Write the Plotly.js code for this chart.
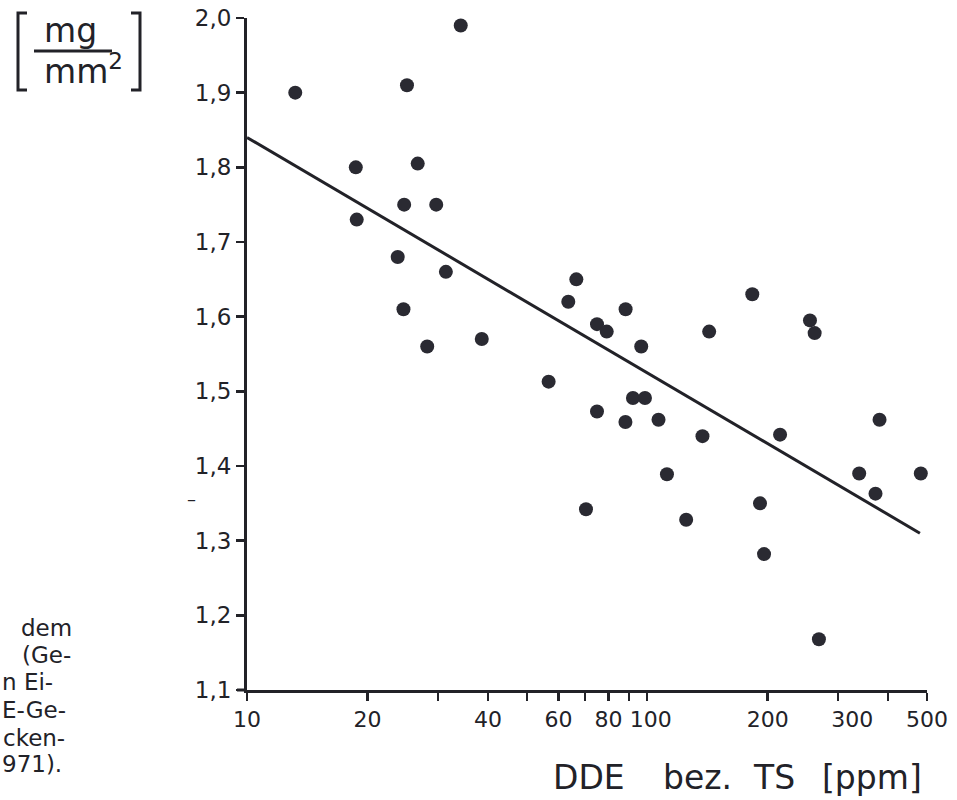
<!DOCTYPE html>
<html>
<head>
<meta charset="utf-8">
<script src="https://cdn.plot.ly/plotly-3.0.1.min.js"></script>
<style>html,body{margin:0;padding:0;background:#fff;}#chart{width:957px;height:800px;}</style>
</head>
<body>
<div id="chart"></div>
<script>
// DDE content (ppm, log scale) vs. shell thickness index (mg/mm^2)
const ddeValues = [13.2, 34.2, 25.1, 18.7, 26.7, 18.8, 24.7, 29.7, 23.8, 31.4, 24.6, 28.2, 38.6,
  66.5, 63.5, 88.3, 74.9, 79.2, 96.6, 142.8, 183, 255, 262, 56.7, 92.1, 98.7, 74.9, 88.2,
  106.7, 137.4, 214.7, 380.5, 112, 338.5, 482.5, 371.8, 70.3, 191.3, 125.1, 195.8, 268.5];
const shellValues = [1.90, 1.99, 1.91, 1.80, 1.805, 1.73, 1.75, 1.75, 1.68, 1.66, 1.61, 1.56, 1.57,
  1.65, 1.62, 1.61, 1.59, 1.58, 1.56, 1.58, 1.63, 1.595, 1.578, 1.513, 1.491, 1.491, 1.473, 1.459,
  1.462, 1.44, 1.442, 1.462, 1.389, 1.39, 1.39, 1.363, 1.342, 1.35, 1.328, 1.282, 1.168];
const regressionX = [10, 480];
const regressionY = [1.84, 1.31];
const xTickVals = [10, 20, 30, 40, 50, 60, 70, 80, 90, 100, 200, 300, 400, 500];
const xTickText = ['10', '20', '', '40', '', '60', '', '80', '', '100', '200', '300', '', '500'];
const yTickVals = [1.1, 1.2, 1.3, 1.4, 1.5, 1.6, 1.7, 1.8, 1.9, 2.0];
const yTickText = ['1,1', '1,2', '1,3', '1,4', '1,5', '1,6', '1,7', '1,8', '1,9', '2,0'];
const xTitleWords = ['DDE', 'bez.', 'TS', '[ppm]'];
const captionLines = ['dem', '(Ge-', 'n Ei-', 'E-Ge-', 'cken-', '971).'];

const W = 957, H = 800, ML = 247, MR = 30, MT = 18, MB = 110;
const PW = W - ML - MR, PH = H - MT - MB;
const px = x => (x - ML) / PW;
const py = y => (H - MB - y) / PH;
const INK = '#222228';
const FONT = 'DejaVu Sans, sans-serif';

// labels in the original sit slightly right of some ticks: pad with leading no-break spaces
const NB = '\u00a0';
const xLabelPad = {100: 1, 300: 4};
const xTickLabels = xTickText.map((t, i) => t ? NB.repeat(xLabelPad[xTickVals[i]] || 0) + t : t);

const traces = [
  {
    x: regressionX, y: regressionY, type: 'scatter', mode: 'lines',
    line: {color: INK, width: 3}, hoverinfo: 'skip', cliponaxis: false
  },
  {
    x: ddeValues, y: shellValues, type: 'scatter', mode: 'markers',
    marker: {color: '#2a2a32', size: 14, line: {width: 0}}, cliponaxis: false
  }
];

const annotations = [];
// y-axis unit label
annotations.push({xref: 'paper', yref: 'paper', x: px(70), y: py(30), xanchor: 'center', yanchor: 'middle',
  text: 'mg', showarrow: false, font: {family: FONT, size: 33, color: INK}});
annotations.push({xref: 'paper', yref: 'paper', x: px(42), y: py(70), xanchor: 'left', yanchor: 'middle',
  text: 'mm<sup>2</sup>', showarrow: false, font: {family: FONT, size: 33, color: INK}});
// x-axis title words
const xTitlePos = [551, 661, 751, 820];
xTitleWords.forEach((w, i) => annotations.push({xref: 'paper', yref: 'paper', x: px(xTitlePos[i]), y: py(777),
  xanchor: 'left', yanchor: 'middle', text: w, showarrow: false, font: {family: FONT, size: 33, color: INK}}));
// cropped caption on the left
const capX = [19, 20, 0, 0, 1, 0];
const capY = [628, 655, 682, 710, 738, 764];
captionLines.forEach((t, i) => annotations.push({xref: 'paper', yref: 'paper', x: px(capX[i]), y: py(capY[i]),
  xanchor: 'left', yanchor: 'middle', text: t, showarrow: false, font: {family: FONT, size: 23, color: INK}}));
// stray dash mark
annotations.push({xref: 'paper', yref: 'paper', x: px(191), y: py(498), xanchor: 'center', yanchor: 'middle',
  text: '–', showarrow: false, font: {family: FONT, size: 18, color: INK}});

const shapes = [
  {type: 'path', xref: 'paper', yref: 'paper',
   path: `M ${px(27)} ${py(13)} L ${px(18)} ${py(13)} L ${px(18)} ${py(90)} L ${px(27)} ${py(90)}`,
   line: {color: INK, width: 3}},
  {type: 'path', xref: 'paper', yref: 'paper',
   path: `M ${px(131)} ${py(13)} L ${px(140)} ${py(13)} L ${px(140)} ${py(90)} L ${px(131)} ${py(90)}`,
   line: {color: INK, width: 3}},
  {type: 'line', xref: 'paper', yref: 'paper', x0: px(34), x1: px(112), y0: py(51), y1: py(51),
   line: {color: INK, width: 3}},
  // x-axis line stub extending left of the y axis
  {type: 'line', xref: 'paper', yref: 'paper', x0: px(237), x1: px(247), y0: py(690), y1: py(690),
   line: {color: INK, width: 3}}
];

const layout = {
  width: W, height: H,
  margin: {l: ML, r: MR, t: MT, b: MB, pad: 0},
  paper_bgcolor: '#ffffff', plot_bgcolor: '#ffffff',
  showlegend: false,
  font: {family: FONT, color: INK},
  xaxis: {
    type: 'log', range: [1, Math.log10(500)],
    tickmode: 'array', tickvals: xTickVals, ticktext: xTickLabels, tickangle: 0,
    ticks: 'outside', ticklen: 8, tickwidth: 2.5, tickcolor: INK,
    showline: true, linecolor: INK, linewidth: 3,
    showgrid: false, zeroline: false,
    tickfont: {family: FONT, size: 22, color: INK}
  },
  yaxis: {
    range: [1.1, 2.0],
    tickmode: 'array', tickvals: yTickVals, ticktext: yTickText,
    ticks: 'outside', ticklen: 8, tickwidth: 2.5, tickcolor: INK,
    showline: true, linecolor: INK, linewidth: 3,
    showgrid: false, zeroline: false,
    tickfont: {family: FONT, size: 23, color: INK}
  },
  annotations: annotations,
  shapes: shapes
};

Plotly.newPlot('chart', traces, layout, {displayModeBar: false, staticPlot: true});
</script>
</body>
</html>
